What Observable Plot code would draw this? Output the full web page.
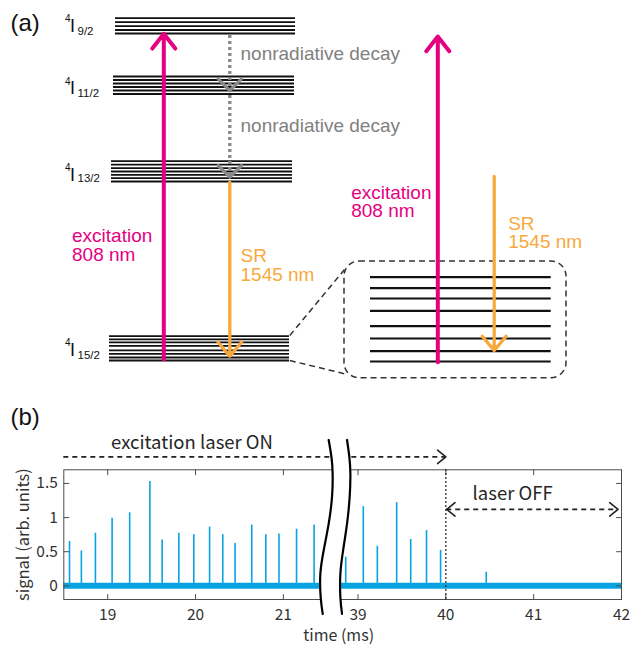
<!DOCTYPE html>
<html>
<head>
<meta charset="utf-8">
<script src="https://cdn.jsdelivr.net/npm/d3@7"></script>
<script src="https://cdn.jsdelivr.net/npm/@observablehq/plot@0.6"></script>
<style>
  body { margin: 0; background: #fff; }
  #fig { width: 641px; height: 645px; overflow: hidden; }
  #fig svg { display: block; }
</style>
</head>
<body>
<div id="fig"></div>
<script>
// ================= DATA : panel (a), energy-level diagram (diagram units) =================
const manifoldNames = ["9/2", "11/2", "13/2", "15/2"];
const starkLevels = [
  [17.7, 21.7, 25.7, 29.5, 33],
  [76, 79.5, 83, 86.5, 90, 93.5],
  [160.7, 164.2, 167.7, 171, 174.3, 177.6, 181],
  [335.7, 338.9, 341.8, 345.4, 349.8, 353.3, 357, 360]
];
const manifoldLeft = [115, 113, 111, 109];
const manifoldRight = [295, 294, 292, 289];
const labelSupBase = [21.7, 84.5, 170, 345.7];
const labelIBase = [31.5, 93.3, 180, 355];
const labelSubBase = [34.5, 96.5, 181.7, 358.3];

const insetLevels = [276.7, 287.7, 298, 310.3, 325.7, 338, 350.7, 361];
const insetBox = [{x1: 344, x2: 566, y1: 261, y2: 377.7}];
const insetLeft = 370, insetRight = 550.7;
const zoomLinks = [
  {x1: 289.3, y1: 335, x2: 344, y2: 269},
  {x1: 289.3, y1: 360, x2: 345, y2: 373.5}
];

const excitationArrows = [{x: 163.3, from: 359, to: 33.3}, {x: 437.3, from: 361.7, to: 36}];
const srArrows = [{x: 229.3, from: 181.7, to: 355.7}, {x: 493.7, from: 176, to: 350}];
const decayArrows = [{x: 229.3, from: 35, to: 90}, {x: 229.3, from: 95, to: 176.7}];

const decayLabels = [{text: "nonradiative decay", x: 240, y: 59}, {text: "nonradiative decay", x: 240, y: 131}];
const excitationLabels = [
  {text: "excitation\n808 nm", x: 71.5, y: 260},
  {text: "excitation\n808 nm", x: 350.7, y: 216.5}
];
const srLabels = [
  {text: "SR\n1545 nm", x: 240, y: 280},
  {text: "SR\n1545 nm", x: 507.7, y: 247.7}
];

// ================= DATA : panel (b), signal trace =================
const spikeTimesOn = [18.565, 18.70, 18.86, 19.05, 19.25, 19.48, 19.62, 19.81, 19.98, 20.16, 20.31, 20.45, 20.64, 20.80, 20.95, 21.15, 21.35];
const spikeValuesOn = [0.65, 0.51, 0.77, 0.99, 1.07, 1.53, 0.67, 0.77, 0.75, 0.86, 0.75, 0.62, 0.89, 0.75, 0.76, 0.83, 0.89];
const spikeTimesLate = [38.86, 39.06, 39.22, 39.44, 39.60, 39.78, 39.94, 40.46];
const spikeValuesLate = [0.42, 1.16, 0.58, 1.22, 0.68, 0.81, 0.52, 0.2];

const timeStart = 18.5, timeEnd = 42;
const gapFrom = 21.59, gapTo = 38.74;          // omitted stretch of the time axis (ms)
const signalDomain = [-0.2, 1.7];
const xTickValues = [19, 20, 21, 39, 40, 41, 42];
const yTickValues = [0, 0.5, 1, 1.5];

// axis-break squiggle (time on each side of the gap, signal units)
const breakSignal = [2.137, 1.891, 1.647, 1.303, 0.912, 0.519, 0.176, -0.168, -0.412];
const breakLeftTime = [21.516, 21.547, 21.561, 21.554, 21.516, 21.459, 21.421, 21.425, 21.448];
const breakRightTime = [38.875, 38.901, 38.913, 38.905, 38.875, 38.830, 38.799, 38.799, 38.818];

const laserOn = [{t1: 18.5, t2: 40, v: 1.89}];
const laserOff = [{t1: 40.01, t2: 41.96, v: 1.12}];
const laserLabels = [
  {text: "excitation laser ON", t: 19.96, v: 2.09},
  {text: "laser OFF", t: 40.76, v: 1.35}
];
const laserOffTime = [40];

// ================= BUILD =================
const magenta = "#e5007f", orange = "#f8a93c", grey = "#8a8a8a", blue = "#08a4e2";
const fontA = "'Liberation Sans', Arial, Helvetica, sans-serif";
const fontB = "'Noto Sans CJK JP', 'Noto Sans', sans-serif";

const chevron = (back, out) => ({
  draw(ctx) { ctx.moveTo(-out, back); ctx.lineTo(0, 0); ctx.lineTo(out, back); }
});
const tickShape = {draw(ctx, l) { ctx.moveTo(0, 0); ctx.lineTo(0, -l); }};

const levelRows = starkLevels.flatMap((ys, i) => ys.map(y => ({y, x1: manifoldLeft[i], x2: manifoldRight[i]})));
const labelRows = manifoldNames.map((name, i) => ({name, sup: labelSupBase[i], base: labelIBase[i], sub: labelSubBase[i]}));

const panelA = Plot.plot({
  width: 641, height: 390, margin: 0,
  x: {domain: [0, 641], range: [0, 641], axis: null},
  y: {domain: [0, 390], range: [0, 390], axis: null},
  style: {fontFamily: fontA, background: "white", overflow: "visible"},
  marks: [
    Plot.ruleY(levelRows, {y: "y", x1: "x1", x2: "x2", stroke: "#111", strokeWidth: 1.8}),
    Plot.link(zoomLinks, {x1: "x1", y1: "y1", x2: "x2", y2: "y2", stroke: "#333", strokeWidth: 1.5, strokeDasharray: "6,4"}),
    Plot.rect(insetBox, {x1: "x1", x2: "x2", y1: "y1", y2: "y2", rx: 15, fill: "none", stroke: "#333", strokeWidth: 1.5, strokeDasharray: "6,4"}),
    Plot.ruleY(insetLevels, {y: d => d, x1: insetLeft, x2: insetRight, stroke: "#111", strokeWidth: 2.2}),
    Plot.ruleX(decayArrows, {x: "x", y1: "from", y2: "to", stroke: grey, strokeWidth: 3.4, strokeDasharray: "3,3"}),
    Plot.vector(decayArrows, {x: "x", y: "to", rotate: 180, anchor: "start", length: 1, shape: chevron(11.7, 11.7), stroke: grey, strokeWidth: 3.2, fill: "none"}),
    Plot.arrow(excitationArrows, {x1: "x", x2: "x", y1: "from", y2: "to", stroke: magenta, strokeWidth: 4, headAngle: 76, headLength: 7}),
    Plot.arrow(srArrows, {x1: "x", x2: "x", y1: "from", y2: "to", stroke: orange, strokeWidth: 3.3, headAngle: 80, headLength: 8.4}),
    Plot.text(labelRows, {x: 64.5, y: "sup", text: () => "4", fontSize: 10, textAnchor: "start", lineAnchor: "bottom", fill: "#111"}),
    Plot.text(labelRows, {x: 69.5, y: "base", text: () => "I", fontSize: 18, textAnchor: "start", lineAnchor: "bottom", fill: "#111"}),
    Plot.text(labelRows, {x: 77, y: "sub", text: "name", fontSize: 11.5, textAnchor: "start", lineAnchor: "bottom", fill: "#111"}),
    Plot.text(decayLabels, {x: "x", y: "y", text: "text", fontSize: 19, textAnchor: "start", lineAnchor: "bottom", fill: "#808080"}),
    Plot.text(excitationLabels, {x: "x", y: "y", text: "text", fontSize: 19, lineHeight: 0.96, textAnchor: "start", lineAnchor: "bottom", fill: magenta}),
    Plot.text(srLabels, {x: "x", y: "y", text: "text", fontSize: 19, lineHeight: 0.96, textAnchor: "start", lineAnchor: "bottom", fill: orange}),
    Plot.text(["(a)"], {x: 10, y: 30, fontSize: 24, textAnchor: "start", lineAnchor: "bottom", fill: "#111"})
  ]
});

const spikeRows = spikeTimesOn.map((t, i) => ({t, v: spikeValuesOn[i]}))
  .concat(spikeTimesLate.map((t, i) => ({t, v: spikeValuesLate[i]})));
const breakRows = breakSignal.map((v, i) => ({v, left: breakLeftTime[i], right: breakRightTime[i]}));
const frameColor = "#4d4d4d";
const gap = gapTo - gapFrom;
const breakAxis = t => (t > (gapFrom + gapTo) / 2 ? t - gap : t);

const panelB = Plot.plot({
  width: 641, height: 255,
  marginTop: 79.3, marginRight: 20, marginBottom: 46, marginLeft: 63.3,
  x: {transform: breakAxis, domain: [timeStart, timeEnd - gap]},
  y: {domain: signalDomain},
  style: {fontFamily: fontB, background: "white", overflow: "visible", color: "#262626"},
  marks: [
    Plot.ruleY([0], {x1: timeStart, x2: timeEnd, stroke: blue, strokeWidth: 6}),
    Plot.ruleX(spikeRows, {x: "t", y1: 0, y2: "v", stroke: blue, strokeWidth: 1.6}),
    Plot.frame({stroke: frameColor, strokeWidth: 1}),
    Plot.vector(xTickValues, {x: d => d, y: signalDomain[0], length: 5, anchor: "start", shape: tickShape, stroke: frameColor, strokeWidth: 1}),
    Plot.vector(xTickValues, {x: d => d, y: signalDomain[1], length: 5, rotate: 180, anchor: "start", shape: tickShape, stroke: frameColor, strokeWidth: 1}),
    Plot.vector(yTickValues, {x: timeStart, y: d => d, length: 5, rotate: 90, anchor: "start", shape: tickShape, stroke: frameColor, strokeWidth: 1}),
    Plot.vector(yTickValues, {x: timeEnd, y: d => d, length: 5, rotate: -90, anchor: "start", shape: tickShape, stroke: frameColor, strokeWidth: 1}),
    Plot.axisX(xTickValues, {tickSize: 0, tickPadding: 9, fontSize: 15.5, label: null, fill: "#333", tickFormat: d => String(d)}),
    Plot.axisY(yTickValues, {tickSize: 0, tickPadding: 6, fontSize: 15.5, label: null, fill: "#333", tickFormat: d => String(d)}),
    Plot.ruleX(laserOffTime, {x: d => d, y1: signalDomain[0], y2: signalDomain[1], stroke: "#222", strokeWidth: 1.2, strokeDasharray: "2,2"}),
    Plot.ruleY(laserOn, {x1: "t1", x2: "t2", y: "v", stroke: "#222", strokeWidth: 1.6, strokeDasharray: "5,4"}),
    Plot.vector(laserOn, {x: "t2", y: "v", rotate: 90, anchor: "start", length: 1, shape: chevron(8.3, 6.7), stroke: "#222", strokeWidth: 1.6, fill: "none"}),
    Plot.ruleY(laserOff, {x1: "t1", x2: "t2", y: "v", stroke: "#222", strokeWidth: 1.6, strokeDasharray: "5,4"}),
    Plot.vector(laserOff, {x: "t2", y: "v", rotate: 90, anchor: "start", length: 1, shape: chevron(8.3, 6.7), stroke: "#222", strokeWidth: 1.6, fill: "none"}),
    Plot.vector(laserOff, {x: "t1", y: "v", rotate: -90, anchor: "start", length: 1, shape: chevron(8.3, 6.7), stroke: "#222", strokeWidth: 1.6, fill: "none"}),
    Plot.areaX(breakRows, {y: "v", x1: "left", x2: "right", fill: "white", curve: "natural"}),
    Plot.line(breakRows, {x: "left", y: "v", curve: "natural", stroke: "#000", strokeWidth: 2.2}),
    Plot.line(breakRows, {x: "right", y: "v", curve: "natural", stroke: "#000", strokeWidth: 2.2}),
    Plot.text(laserLabels, {x: "t", y: "v", text: "text", fontSize: 18.5, fill: "#262626"}),
    Plot.text(["time (ms)"], {frameAnchor: "bottom", dy: 41.5, dx: -4, textAnchor: "middle", lineAnchor: "bottom", fontSize: 16, fill: "#333"}),
    Plot.text(["signal (arb. units)"], {frameAnchor: "left", dx: -40, rotate: -90, textAnchor: "middle", lineAnchor: "middle", fontSize: 16.5, fill: "#333"}),
    Plot.text(["(b)"], {frameAnchor: "top-left", dx: -53.3, dy: -45.3, textAnchor: "start", lineAnchor: "bottom", fontSize: 24, fontFamily: fontA, fill: "#111"})
  ]
});

const fig = document.getElementById("fig");
fig.appendChild(panelA);
fig.appendChild(panelB);
</script>
</body>
</html>
